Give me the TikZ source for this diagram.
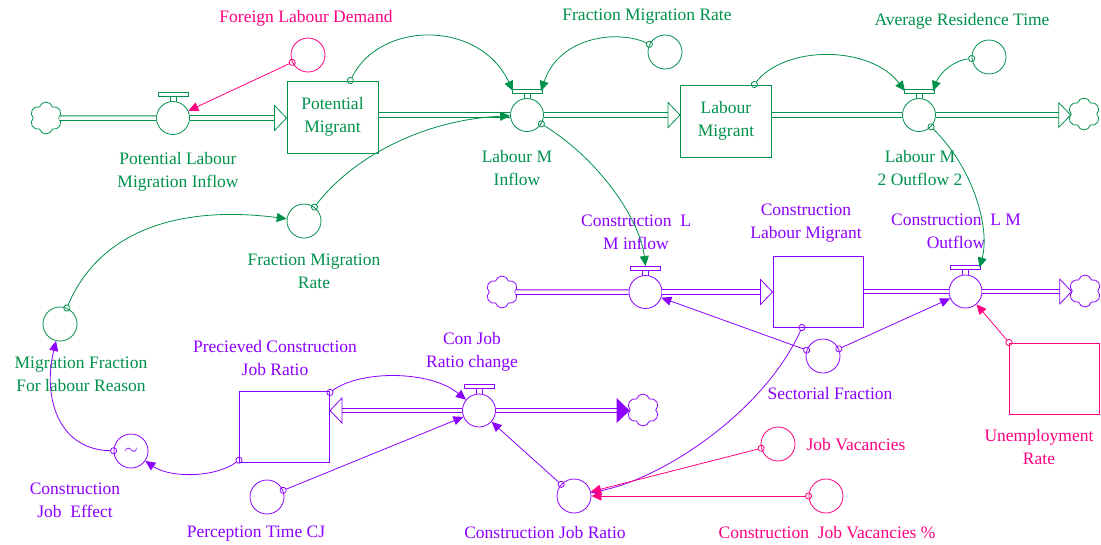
\documentclass[tikz,border=0pt]{standalone}
\usepackage{fontspec}
\setmainfont{Liberation Serif}
\usepackage{tikz}
\usetikzlibrary{calc,arrows.meta,positioning,shapes.symbols}
\definecolor{sdGreen}{RGB}{0,145,75}
\definecolor{sdPurple}{RGB}{140,0,255}
\definecolor{sdPink}{RGB}{255,0,128}

\begin{document}
\begin{tikzpicture}[x=1pt,y=-1pt,
  every node/.style={font=\fontsize{17.5}{23}\selectfont, align=center, inner sep=0pt},
  stock/.style={draw, line width=1pt, minimum width=91pt, minimum height=72pt},
  valve/.style={circle, draw, fill=white, line width=0.8pt, minimum size=33pt},
  aux/.style={circle, draw, line width=0.8pt, minimum size=34pt},
  sink/.style={cloud, cloud puffs=6, aspect=1, draw, line width=0.8pt, minimum width=32pt, minimum height=32pt},
  pipe/.style={double, double distance=3.5pt, line width=1pt},
  link/.style={line width=0.8pt, shorten <=-3.5pt, {Circle[open,length=7pt,width=7pt]}-{Triangle[length=10pt,width=9pt]}},
  handle/.pic={
    \draw[line width=0.8pt] (-3,-16.5) -- (-3,-22) (3,-16.5) -- (3,-22);
    \draw[line width=0.8pt] (-15,-22) rectangle (15,-26);
    \coordinate (-l) at (-14,-24);
    \coordinate (-r) at (14,-24);
    \coordinate (-t) at (0,-26);},
  headopen/.pic={\draw[fill=white, line width=0.8pt] (-12,-12.5) -- (0,0) -- (-12,12.5) -- cycle;},
  headfill/.pic={\fill (-13,-12.5) -- (0,0) -- (-13,12.5) -- cycle;}]
\useasboundingbox (0,0) rectangle (1101,544);

\node[sink, sdGreen] (c1) at (46,118) {};
\node[sdGreen, valve] (plmi) at (173,118) {};
\node[stock, sdGreen] (pm) at (332.5,117) {Potential\\Migrant};
\node[sdGreen, valve] (lmi) at (527,115) {};
\node[stock, sdGreen] (lm) at (726,121) {Labour\\Migrant};
\node[sdGreen, valve] (lmo) at (919,115) {};
\node[sink, sdGreen] (c2) at (1084,114) {};
\draw[pipe, sdGreen] (c1) -- (plmi);
\draw[pipe, sdGreen, shorten >=12pt] (plmi) -- (pm.west |- plmi);
\pic[sdGreen] at (pm.west |- plmi) {headopen};
\draw[pipe, sdGreen] (pm.east |- lmi) -- (lmi);
\draw[pipe, sdGreen, shorten >=12pt] (lmi) -- (lm.west |- lmi);
\pic[sdGreen] at (lm.west |- lmi) {headopen};
\draw[pipe, sdGreen] (lm.east |- lmo) -- (lmo);
\draw[pipe, sdGreen, shorten >=12pt] (lmo) -- (c2.west |- lmo);
\pic[sdGreen] at (c2.west |- lmo) {headopen};
\pic[sdGreen] (plmih) at (plmi.center) {handle};
\pic[sdGreen] (lmih) at (lmi.center) {handle};
\pic[sdGreen] (lmoh) at (lmo.center) {handle};

\node[sink, sdPurple] (c3) at (502,292) {};
\node[sdPurple, valve] (clmi) at (645.5,292) {};
\node[stock, sdPurple, minimum width=90pt, minimum height=71pt] (clm) at (818,291.5) {};
\node[sdPurple, valve] (clmo) at (965.5,291.5) {};
\node[sink, sdPurple] (c4) at (1085,291) {};
\draw[pipe, sdPurple] (c3) -- (clmi);
\draw[pipe, sdPurple, shorten >=12pt] (clmi) -- (clm.west |- clmi);
\pic[sdPurple] at (clm.west |- clmi) {headopen};
\draw[pipe, sdPurple] (clm.east |- clmo) -- (clmo);
\draw[pipe, sdPurple, shorten >=12pt] (clmo) -- (c4.west |- clmo);
\pic[sdPurple] at (c4.west |- clmo) {headopen};
\pic[sdPurple] (clmih) at (clmi.center) {handle};
\pic[sdPurple] (clmoh) at (clmo.center) {handle};

\node[stock, sdPurple, minimum width=90pt, minimum height=71pt] (pcjr) at (284.5,426.5) {};
\node[sdPurple, valve] (cjrc) at (479,410.5) {};
\node[sink, sdPurple] (c5) at (643,410) {};
\draw[pipe, sdPurple, shorten >=12pt] (cjrc) -- (pcjr.east |- cjrc);
\pic[sdPurple, rotate=180] at (pcjr.east |- cjrc) {headopen};
\draw[pipe, sdPurple, shorten >=13pt] (cjrc) -- (c5.west |- cjrc);
\pic[sdPurple] at (c5.west |- cjrc) {headfill};
\pic[sdPurple] (cjrch) at (cjrc.center) {handle};

\node[stock, sdPink, minimum width=90pt, minimum height=71pt] (ur) at (1054.5,378.5) {};

\node[aux, sdPink] (fld) at (308,55) {};
\node[aux, sdGreen] (fmr) at (665,52) {};
\node[aux, sdGreen] (art) at (989,57) {};
\node[aux, sdGreen] (fmr2) at (304,221) {};
\node[aux, sdGreen] (mf) at (60,324) {};
\node[aux, sdPurple] (sf) at (823,356) {};
\node[aux, sdPurple] (cje) at (131,451) {\raisebox{-7pt}{$\sim$}};
\node[aux, sdPurple] (ptcj) at (267,497) {};
\node[aux, sdPurple] (cjr) at (574,496) {};
\node[aux, sdPink] (jv) at (778,444) {};
\node[aux, sdPink] (cjvp) at (826,496) {};

\node[sdPink] (lfld) at (306,18) {Foreign Labour Demand};
\node[sdGreen] (lfmr) at (647,17) {Fraction Migration Rate};
\node[sdGreen] (lart) at (962,21) {Average Residence Time};
\node[sdGreen] (lplmi) at (178,171.5) {Potential Labour\\Migration Inflow};
\node[sdGreen] (llmi) at (517,168.5) {Labour M\\Inflow};
\node[sdGreen] (llmo) at (920,168.5) {Labour M\\2 Outflow 2};
\node[sdGreen] (lfmr2) at (314,271) {Fraction Migration\\Rate};
\node[sdGreen] (lmf) at (81,374.5) {Migration Fraction\\For labour Reason};
\node[sdPurple] (lclmi) at (636,232.5) {Construction\ \ L\\M inflow};
\node[sdPurple] (lclm) at (806,223.5) {Construction\\Labour Migrant};
\node[sdPurple] (lclmo) at (956,231.5) {Construction\ \ L M\\Outflow};
\node[sdPurple] (lsf) at (830,394) {Sectorial Fraction};
\node[sdPink] (lur) at (1039,447) {Unemployment\\Rate};
\node[sdPurple] (lcjrc) at (472,351.5) {Con Job\\Ratio change};
\node[sdPurple] (lpcjr) at (275,358.5) {Precieved Construction\\Job Ratio};
\node[sdPurple] (lcje) at (75,500) {Construction\\Job\ \ Effect};
\node[sdPurple] (lptcj) at (256,534) {Perception Time CJ};
\node[sdPurple] (lcjr) at (545,533) {Construction Job Ratio};
\node[sdPink] (ljv) at (856,445) {Job Vacancies};
\node[sdPink] (lcjvp) at (827,533) {Construction\ \ Job Vacancies \%};

\draw[link, sdPink] (fld) -- (plmi);
\draw[link, sdGreen] (pm) .. controls (380,20) and (480,20) .. (lmih-l);
\draw[link, sdGreen] (fmr) .. controls (620,30) and (560,35) .. (lmih-r);
\draw[link, sdGreen] (lm) .. controls (785,45) and (870,45) .. (lmoh-l);
\draw[link, sdGreen] (art) .. controls (955,60) and (940,72) .. (lmoh-r);
\draw[link, sdGreen] (fmr2) .. controls (350,160) and (420,120) .. (lmi);
\draw[link, sdGreen] (mf) .. controls (100,230) and (180,205) .. (fmr2);
\draw[link, sdGreen] (lmi) .. controls (600,160) and (640,220) .. (clmih-t);
\draw[link, sdGreen] (lmo) .. controls (975,170) and (990,230) .. (clmoh-r);
\draw[link, sdPurple] (sf) -- (clmi);
\draw[link, sdPurple] (sf) -- (clmo);
\draw[link, sdPink] (ur.north west) -- (clmo);
\draw[link, sdPurple] (clm) .. controls (765,410) and (665,478) .. (cjr);
\draw[link, sdPurple] (pcjr) .. controls (360,370) and (430,370) .. (cjrc);
\draw[link, sdPurple] (pcjr) .. controls (215,478) and (170,478) .. (cje);
\draw[link, sdPurple] (cje) .. controls (60,450) and (42,400) .. (mf);
\draw[link, sdPurple] (ptcj) -- (cjrc);
\draw[link, sdPurple] (cjr) -- (cjrc);
\draw[link, sdPink] (jv) -- (cjr);
\draw[link, sdPink] (cjvp) -- (cjr);
\end{tikzpicture}
\end{document}
